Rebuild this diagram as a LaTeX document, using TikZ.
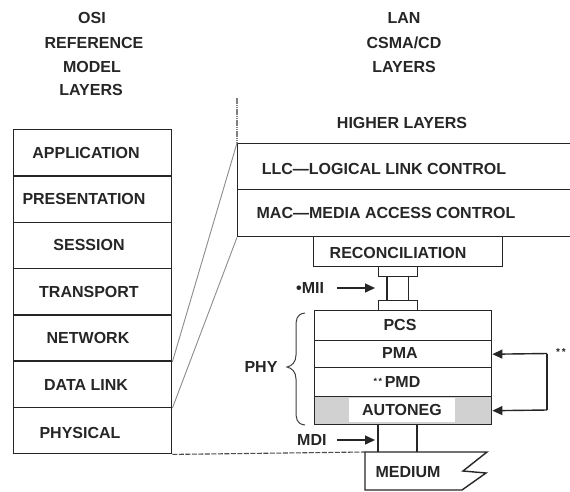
\documentclass[tikz,border=0pt]{standalone}
\usepackage{fontspec}
\setmainfont{Liberation Sans}
\usetikzlibrary{arrows.meta}
\begin{document}
\begin{tikzpicture}[x=1pt,y=-1pt,
  txt/.style={font=\fontsize{16}{19}\selectfont\bfseries, text=black!85, inner sep=0pt},
  ln/.style={line width=1.4pt, draw=black!85},
  box/.style={ln, rectangle, inner sep=0pt, anchor=north west},
  arr/.style={-{Triangle[length=10pt,width=9pt]}, line width=1.4pt, draw=black!85},
  slant/.style={line width=0.9pt, draw=black!45}]
\useasboundingbox[fill=white] (0,0) rectangle (570,491);

% ---- headings
\node[txt] (h1) at (92,18) {OSI};
\node[txt] (h2) at (94,43) {REFERENCE};
\node[txt] (h3) at (92,67) {MODEL};
\node[txt] (h4) at (91,90) {LAYERS};
\node[txt] (l1) at (404,18) {LAN};
\node[txt] (l2) at (404,43) {CSMA/CD};
\node[txt] (l3) at (404,67) {LAYERS};

% ---- OSI stack
\foreach \n/\t [count=\i from 0] in {app/129,pres/175.3,sess/221.6,trans/267.9,net/314.1,dl/360.4,phys/406.7}{
  \node[box, minimum width=158pt, minimum height=46.3pt] (\n) at (13,\t) {};
}
\node[txt] (tapp) at (86,153) {APPLICATION};
\node[txt] (tpres) at (84,199) {PRESENTATION};
\node[txt] (tsess) at (89,245) {SESSION};
\node[txt] (ttrans) at (89,292) {TRANSPORT};
\node[txt] (tnet) at (88,338) {NETWORK};
\node[txt] (tdl) at (86,385) {DATA LINK};
\node[txt] (tphys) at (80,433) {PHYSICAL};

% ---- LAN upper layers
\node[txt] (thigh) at (402,123) {HIGHER LAYERS};
\node[box, minimum width=340pt, minimum height=46pt] (llc) at (237,143) {};
\node[box, minimum width=340pt, minimum height=47pt] (mac) at (237,189) {};
\node[txt] (tllc) at (384,169) {LLC---LOGICAL LINK CONTROL};
\node[txt] (tmac) at (386,213) {MAC---MEDIA ACCESS CONTROL};
\coordinate (vtop) at (237,98);
\draw[line width=2.6pt, draw=black!50, dash pattern=on 1.6pt off 0.6pt] (vtop) -- (llc.north west);

% ---- slanted mapping lines
\draw[slant] (net.south east) -- (llc.north west);
\draw[slant] (dl.south east) -- (mac.south west);

% ---- reconciliation
\node[box, minimum width=189pt, minimum height=30pt] (rec) at (313,236) {};
\node[txt] (trec) at (398,253) {RECONCILIATION};

% ---- MII connector
\node[box, minimum width=39pt, minimum height=10pt] (plA) at (378,266) {};
\node[box, minimum width=39pt, minimum height=10pt] (plB) at (378,300) {};
\draw[ln] ([xshift=9pt]plA.south west) -- ([xshift=9pt]plB.north west);
\draw[ln] ([xshift=-10pt]plA.south east) -- ([xshift=-10pt]plB.north east);
\node[txt, anchor=west] (tmii) at (296,288) {•MII};
\coordinate (miiS) at (337,288);
\coordinate (miiE) at (375,288);
\draw[arr] (miiS) -- (miiE);

% ---- PHY stack
\node[box, minimum width=177pt, minimum height=30pt] (pcs) at (314,310) {};
\node[box, minimum width=177pt, minimum height=27pt] (pma) at (314,340) {};
\node[box, minimum width=177pt, minimum height=29pt] (pmd) at (314,367) {};
\node[box, minimum width=177pt, minimum height=28pt, fill=black!18] (an) at (314,396) {};
\node[txt] (tpcs) at (400,325) {PCS};
\node[txt] (tpma) at (400,353) {PMA};
\node[txt] (tpmd) at (397,382) {{\fontsize{9}{9}\selectfont\raisebox{3pt}{*\,*}}\,PMD};
\node[txt, fill=white, minimum width=106pt, minimum height=24pt] (tan) at (402,410) {AUTONEG};

% ---- PHY brace
\coordinate (brT) at (305,313);
\coordinate (brB) at (305,425);
\draw[line width=1pt, draw=black!75] (brT) .. controls (296,314) and (296,320) .. (296,328)
  -- (296,355) .. controls (296,362) and (292,366) .. (287,367)
  .. controls (292,368) and (296,372) .. (296,379)
  -- (296,410) .. controls (296,418) and (296,424) .. (brB);
\node[txt] (tphy) at (261,367) {PHY};

% ---- right loop
\coordinate (lpA) at (547,353.5);
\coordinate (lpB) at (547,410);
\draw[ln] (lpA) -- (lpB);
\draw[arr] (lpA) -- (pma.east);
\draw[arr] (lpB) -- (an.east);
\node[txt, anchor=west] (tss) at (556,352) {{\fontsize{10}{10}\selectfont *\,*}};

% ---- MDI connector
\coordinate (mdiL) at (378,424);
\coordinate (mdiR) at (417,424);
\coordinate (medL) at (378,452);
\coordinate (medR) at (417,452);
\draw[ln] (mdiL) -- (medL);
\draw[ln] (mdiR) -- (medR);
\node[txt, anchor=west] (tmdi) at (297,440) {MDI};
\coordinate (mdiS) at (337,440);
\coordinate (mdiE) at (375,440);
\draw[arr] (mdiS) -- (mdiE);

% ---- medium
\coordinate (medTL) at (365,452);
\draw[ln] (medTL) -- (487,452) -- (463,471) -- (486,473) -- (462,490) -- (365,490) -- cycle;
\node[txt] (tmed) at (408,472) {MEDIUM};

% ---- dashed physical extension
\draw[line width=1.1pt, draw=black!70, dash pattern=on 5pt off 1.5pt] (phys.south east) -- (medTL);
\end{tikzpicture}
\end{document}
